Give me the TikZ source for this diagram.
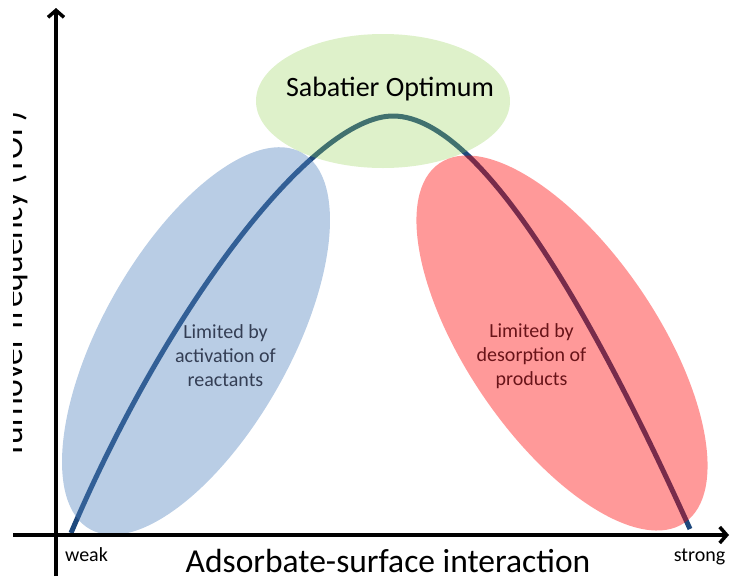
\documentclass[tikz,border=0pt]{standalone}
\usepackage{fontspec}
\setmainfont{Carlito}
\usetikzlibrary{arrows.meta}

\definecolor{curveblue}{RGB}{31,73,125}
\definecolor{lowblue}{RGB}{79,129,189}
\definecolor{optgreen}{RGB}{146,208,80}
\definecolor{highred}{RGB}{255,0,0}
\definecolor{bluetext}{RGB}{52,62,84}
\definecolor{redtext}{RGB}{105,20,25}

\tikzset{
  axisline/.style={line width=3.5pt, -{Straight Barb[length=7pt,width=16pt]}},
  volcano/.style={curveblue, line width=5pt},
  regionfill/.style 2 args={fill=#1, fill opacity=#2},
  regionlabel/.style={font=\fontsize{20}{24}\selectfont, align=center},
  ticklabel/.style={font=\fontsize{20}{24}\selectfont, anchor=base},
  axislabel/.style={font=\fontsize{33.5}{40}\selectfont, anchor=base},
}

\begin{document}
\begin{tikzpicture}[x=1pt,y=-1pt]
\useasboundingbox (0,0) rectangle (731,576);
\begin{scope}
\clip (13,0) rectangle (731,576);

% activity curve (drawn first, the regions tint it)
\coordinate (cstart) at (71,533);
\coordinate (cpeak) at (393,116);
\coordinate (cend) at (690,529);
\draw[volcano] (cstart) .. controls (167,307) and (313,116) .. (cpeak)
                        .. controls (487,116) and (609,349) .. (cend);

% shaded regions
\fill[regionfill={optgreen}{0.3}] (383,101) ellipse [x radius=127pt, y radius=67pt];
\fill[regionfill={lowblue}{0.4}, rotate around={60.6:(196,341)}]
  (196,341) ellipse [x radius=216pt, y radius=94pt];
\fill[regionfill={highred}{0.4}, rotate around={124.3:(562,343)}]
  (562,343) ellipse [x radius=217.5pt, y radius=95pt];

% axes
\coordinate (yfoot) at (56,576);
\coordinate (ytip) at (56,8);
\coordinate (xfoot) at (13,535);
\coordinate (xtip) at (729,535);
\draw[axisline] (yfoot) -- (ytip);
\draw[axisline] (xfoot) -- (xtip);

% labels
\node[font=\fontsize{28}{34}\selectfont, anchor=base] (optimum) at (390,96.7) {Sabatier Optimum};
\node[regionlabel, text=bluetext] (lowlabel) at (225.5,356) {Limited by\\activation of\\reactants};
\node[regionlabel, text=redtext] (highlabel) at (531.5,356) {Limited by\\desorption of\\products};
\node[ticklabel] (weak) at (86.5,561) {weak};
\node[ticklabel] (strong) at (699.5,561) {strong};
\node[axislabel] (xlabel) at (388,572.5) {Adsorbate-surface interaction};
\node[axislabel, rotate=90] (ylabel) at (22,285) {Turnover frequency (TOF)};
\end{scope}
\end{tikzpicture}
\end{document}
